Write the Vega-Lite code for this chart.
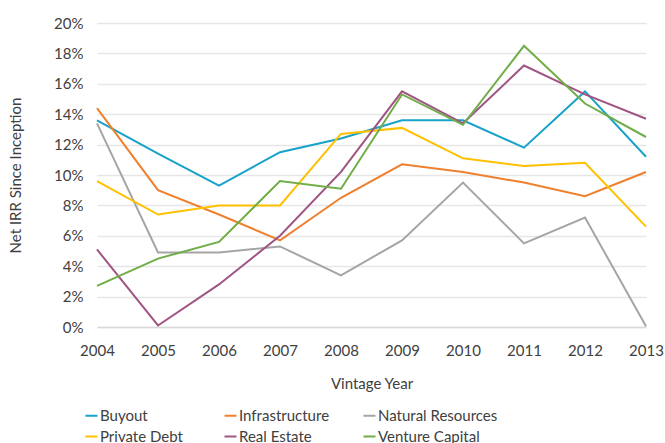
{
  "$schema": "https://vega.github.io/schema/vega-lite/v6.json",
  "width": 549,
  "height": 304,
  "autosize": {"type": "none"},
  "padding": {"left": 97, "top": 23, "right": 19, "bottom": 116},
  "background": "white",
  "config": {
    "view": {"stroke": null},
    "font": "Lato",
    "axis": {"labelFont": "Lato", "titleFont": "Lato", "labelColor": "#404040", "titleColor": "#404040", "labelFontSize": 15, "titleFontSize": 15, "titleFontWeight": "normal"}
  },
  "data": {
    "values": [
      {"year": 2004, "series": "Buyout", "irr": 13.6},
      {"year": 2005, "series": "Buyout", "irr": 11.4},
      {"year": 2006, "series": "Buyout", "irr": 9.3},
      {"year": 2007, "series": "Buyout", "irr": 11.5},
      {"year": 2008, "series": "Buyout", "irr": 12.4},
      {"year": 2009, "series": "Buyout", "irr": 13.6},
      {"year": 2010, "series": "Buyout", "irr": 13.6},
      {"year": 2011, "series": "Buyout", "irr": 11.8},
      {"year": 2012, "series": "Buyout", "irr": 15.5},
      {"year": 2013, "series": "Buyout", "irr": 11.2},
      {"year": 2004, "series": "Infrastructure", "irr": 14.4},
      {"year": 2005, "series": "Infrastructure", "irr": 9.0},
      {"year": 2006, "series": "Infrastructure", "irr": 7.4},
      {"year": 2007, "series": "Infrastructure", "irr": 5.7},
      {"year": 2008, "series": "Infrastructure", "irr": 8.5},
      {"year": 2009, "series": "Infrastructure", "irr": 10.7},
      {"year": 2010, "series": "Infrastructure", "irr": 10.2},
      {"year": 2011, "series": "Infrastructure", "irr": 9.5},
      {"year": 2012, "series": "Infrastructure", "irr": 8.6},
      {"year": 2013, "series": "Infrastructure", "irr": 10.2},
      {"year": 2004, "series": "Natural Resources", "irr": 13.4},
      {"year": 2005, "series": "Natural Resources", "irr": 4.9},
      {"year": 2006, "series": "Natural Resources", "irr": 4.9},
      {"year": 2007, "series": "Natural Resources", "irr": 5.3},
      {"year": 2008, "series": "Natural Resources", "irr": 3.4},
      {"year": 2009, "series": "Natural Resources", "irr": 5.7},
      {"year": 2010, "series": "Natural Resources", "irr": 9.5},
      {"year": 2011, "series": "Natural Resources", "irr": 5.5},
      {"year": 2012, "series": "Natural Resources", "irr": 7.2},
      {"year": 2013, "series": "Natural Resources", "irr": 0.05},
      {"year": 2004, "series": "Private Debt", "irr": 9.6},
      {"year": 2005, "series": "Private Debt", "irr": 7.4},
      {"year": 2006, "series": "Private Debt", "irr": 8.0},
      {"year": 2007, "series": "Private Debt", "irr": 8.0},
      {"year": 2008, "series": "Private Debt", "irr": 12.7},
      {"year": 2009, "series": "Private Debt", "irr": 13.1},
      {"year": 2010, "series": "Private Debt", "irr": 11.1},
      {"year": 2011, "series": "Private Debt", "irr": 10.6},
      {"year": 2012, "series": "Private Debt", "irr": 10.8},
      {"year": 2013, "series": "Private Debt", "irr": 6.6},
      {"year": 2004, "series": "Real Estate", "irr": 5.1},
      {"year": 2005, "series": "Real Estate", "irr": 0.1},
      {"year": 2006, "series": "Real Estate", "irr": 2.8},
      {"year": 2007, "series": "Real Estate", "irr": 6.0},
      {"year": 2008, "series": "Real Estate", "irr": 10.2},
      {"year": 2009, "series": "Real Estate", "irr": 15.5},
      {"year": 2010, "series": "Real Estate", "irr": 13.4},
      {"year": 2011, "series": "Real Estate", "irr": 17.2},
      {"year": 2012, "series": "Real Estate", "irr": 15.3},
      {"year": 2013, "series": "Real Estate", "irr": 13.7},
      {"year": 2004, "series": "Venture Capital", "irr": 2.7},
      {"year": 2005, "series": "Venture Capital", "irr": 4.5},
      {"year": 2006, "series": "Venture Capital", "irr": 5.6},
      {"year": 2007, "series": "Venture Capital", "irr": 9.6},
      {"year": 2008, "series": "Venture Capital", "irr": 9.1},
      {"year": 2009, "series": "Venture Capital", "irr": 15.3},
      {"year": 2010, "series": "Venture Capital", "irr": 13.3},
      {"year": 2011, "series": "Venture Capital", "irr": 18.5},
      {"year": 2012, "series": "Venture Capital", "irr": 14.7},
      {"year": 2013, "series": "Venture Capital", "irr": 12.5}
    ]
  },
  "mark": {"type": "line", "strokeWidth": 2},
  "encoding": {
    "x": {
      "field": "year", "type": "quantitative",
      "scale": {"domain": [2004, 2013], "nice": false, "zero": false},
      "axis": {"title": "Vintage Year", "format": "d", "values": [2004,2005,2006,2007,2008,2009,2010,2011,2012,2013], "grid": false, "ticks": false, "domainColor": "#d9d9d9", "domainWidth": 1.5, "labelPadding": 16, "titlePadding": 18, "labelFlush": false}
    },
    "y": {
      "field": "irr", "type": "quantitative",
      "scale": {"domain": [0, 20], "nice": false},
      "axis": {"title": "Net IRR Since Inception", "values": [0,2,4,6,8,10,12,14,16,18,20], "labelExpr": "datum.value + '%'", "domain": false, "ticks": false, "gridColor": "#e6e6e6", "gridWidth": 1.5, "labelPadding": 14, "titlePadding": 30}
    },
    "color": {
      "field": "series", "type": "nominal",
      "scale": {
        "domain": ["Buyout", "Infrastructure", "Natural Resources", "Private Debt", "Real Estate", "Venture Capital"],
        "range": ["#17A2C9", "#F07F2E", "#A5A5A5", "#FFC000", "#A05483", "#70AD47"]
      },
      "legend": {
        "title": null, "orient": "none", "legendX": -13, "legendY": 385, "direction": "horizontal",
        "columns": 3, "gridAlign": "all", "columnPadding": 0, "rowPadding": 5,
        "symbolType": "stroke", "symbolSize": 144, "symbolStrokeWidth": 2, "labelOffset": 1,
        "labelFont": "Lato", "labelFontSize": 15, "labelColor": "#404040", "labelLimit": 300
      }
    }
  }
}
